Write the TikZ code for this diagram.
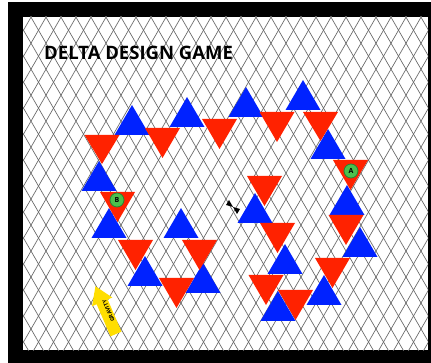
\documentclass[tikz,border=0pt]{standalone}
\usepackage{fontspec}
\newfontfamily\titlefont{Open Sans}
\definecolor{deltared}{RGB}{255,34,0}
\definecolor{deltablue}{RGB}{0,34,255}
\definecolor{tokengreen}{RGB}{76,192,76}
\definecolor{tokenedge}{RGB}{40,130,50}
\definecolor{gravyellow}{RGB}{255,222,0}
\tikzset{
  redtri/.style={fill=deltared},
  bluetri/.style={fill=deltablue},
  gridline/.style={draw=black!60, line width=0.65pt},
  token/.style={circle, fill=tokengreen, draw=tokenedge, line width=0.8pt,
    minimum size=14pt, inner sep=0pt, font=\titlefont\bfseries\fontsize{7}{7}\selectfont},
}
\begin{document}
\begin{tikzpicture}[x=1pt,y=-1pt]
	\useasboundingbox (0,0) rectangle (431,363);
	% frame and board
	\fill[black] (8,2) rectangle (431,363);
	\fill[white] (23,17) rectangle (428,350);
	\begin{scope}
		\clip (23,17) rectangle (428,350);
		\foreach \k in {-40,...,20} {
			\draw[gridline] ({376+15*\k-200},{303+346.4}) -- ({376+15*\k+200},{303-346.4});
			\draw[gridline] ({376+15*\k-200},{303-346.4}) -- ({376+15*\k+200},{303+346.4});
		}
	\end{scope}
	\node[anchor=base west, inner sep=0pt, font=\titlefont\bfseries\fontsize{18.5}{18.5}\selectfont] (title) at (44,60) {DELTA DESIGN GAME};
	% blue triangles
	\fill[bluetri] (114.5,135) -- (149.5,135) -- (132,105) -- cycle;
	\fill[bluetri] (169.5,127) -- (204.5,127) -- (187,97) -- cycle;
	\fill[bluetri] (228.5,117) -- (263.5,117) -- (246,87) -- cycle;
	\fill[bluetri] (285.5,110) -- (320.5,110) -- (303,80) -- cycle;
	\fill[bluetri] (310.5,159) -- (345.5,159) -- (328,129) -- cycle;
	\fill[bluetri] (329.5,215) -- (364.5,215) -- (347,185) -- cycle;
	\fill[bluetri] (342.5,257) -- (377.5,257) -- (360,227) -- cycle;
	\fill[bluetri] (306.5,305) -- (341.5,305) -- (324,275) -- cycle;
	\fill[bluetri] (260.5,321) -- (295.5,321) -- (278,291) -- cycle;
	\fill[bluetri] (267.5,274) -- (302.5,274) -- (285,244) -- cycle;
	\fill[bluetri] (237.5,223) -- (272.5,223) -- (255,193) -- cycle;
	\fill[bluetri] (81.5,191) -- (116.5,191) -- (99,161) -- cycle;
	\fill[bluetri] (91.5,238) -- (126.5,238) -- (109,208) -- cycle;
	\fill[bluetri] (127.5,286) -- (162.5,286) -- (145,256) -- cycle;
	\fill[bluetri] (185.5,293) -- (220.5,293) -- (203,263) -- cycle;
	\fill[bluetri] (163.5,238) -- (198.5,238) -- (181,208) -- cycle;
	% red triangles
	\fill[redtri] (84.5,135) -- (119.5,135) -- (102,164) -- cycle;
	\fill[redtri] (145,128) -- (180,128) -- (162.5,158) -- cycle;
	\fill[redtri] (202,119) -- (237,119) -- (219.5,149) -- cycle;
	\fill[redtri] (259.5,112) -- (294.5,112) -- (277,142) -- cycle;
	\fill[redtri] (303,112) -- (338,112) -- (320.5,141) -- cycle;
	\fill[redtri] (333,160) -- (368,160) -- (350.5,190) -- cycle;
	\fill[redtri] (328.5,215) -- (363.5,215) -- (346,245) -- cycle;
	\fill[redtri] (315,258) -- (350,258) -- (332.5,288) -- cycle;
	\fill[redtri] (278,290) -- (313,290) -- (295.5,320) -- cycle;
	\fill[redtri] (248.5,275) -- (283.5,275) -- (266,305) -- cycle;
	\fill[redtri] (260,223) -- (295,223) -- (277.5,253) -- cycle;
	\fill[redtri] (247,176) -- (282,176) -- (264.5,206) -- cycle;
	\fill[redtri] (100,192) -- (135,192) -- (117.5,222) -- cycle;
	\fill[redtri] (118,240) -- (153,240) -- (135.5,270) -- cycle;
	\fill[redtri] (159,278) -- (194,278) -- (176.5,308) -- cycle;
	\fill[redtri] (182,240) -- (217,240) -- (199.5,270) -- cycle;
	% tokens
	\node[token] (tokenA) at (351,171) {A};
	\node[token] (tokenB) at (117,200) {B};
	% centre mark
	\fill[black] (233,207) -- (226,205) -- (229,200) -- cycle;
	\fill[black] (233,207) -- (240,209) -- (237,214) -- cycle;
	% gravity arrow
	\begin{scope}[shift={(116,334)}, rotate=113.3]
		\fill[gravyellow] (0,6) -- (35,6) -- (35,11) -- (52,0) -- (35,-11) -- (35,-6) -- (0,-6) -- cycle;
	\end{scope}
	\node[rotate=113.3, inner sep=0pt, font=\titlefont\bfseries\fontsize{5.5}{5.5}\selectfont] (gravity) at (108.5,311) {GRAVITY};
\end{tikzpicture}
\end{document}
